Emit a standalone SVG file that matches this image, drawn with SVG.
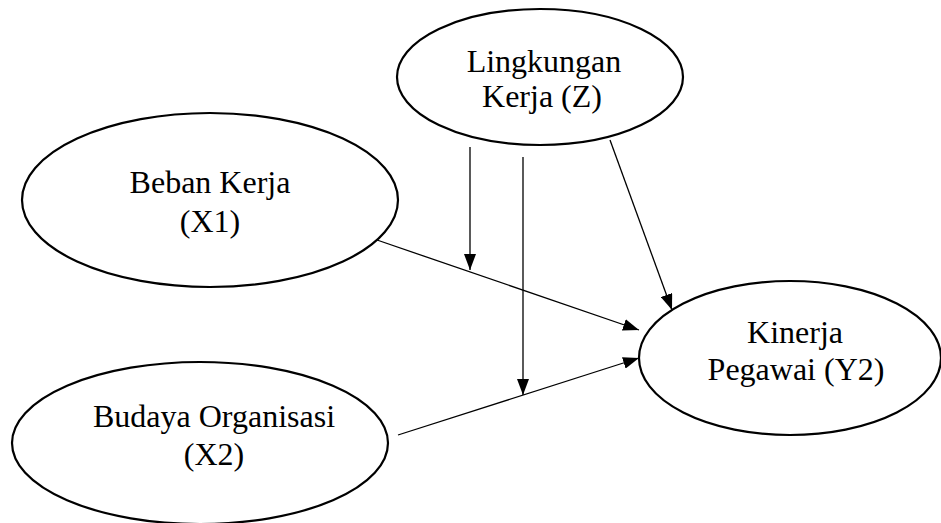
<svg xmlns="http://www.w3.org/2000/svg" width="941" height="523" viewBox="0 0 941 523">
<style>
.node ellipse{fill:#fff;stroke:#000;stroke-width:2.2}
.node text{font-size:32px;fill:#000;text-anchor:middle}
.edges line{stroke:#000;stroke-width:1.3;fill:none}
</style>
<defs>
<marker id="ah" viewBox="0 0 16 12" refX="16" refY="6" markerWidth="16" markerHeight="12" markerUnits="userSpaceOnUse" orient="auto">
<path d="M0,0 L16,6 L0,12 Z" fill="#000"/>
</marker>
</defs>
<rect width="941" height="523" fill="#fff"/>
<g font-family="'Liberation Serif', 'Times New Roman', 'DejaVu Serif', serif">
<g id="node-z" class="node">
<ellipse cx="540" cy="77" rx="143" ry="68"/>
<text x="544" y="72">Lingkungan</text>
<text x="542" y="107">Kerja (Z)</text>
</g>
<g id="node-x1" class="node">
<ellipse cx="210" cy="200" rx="188" ry="87"/>
<text x="210" y="193">Beban Kerja</text>
<text x="210" y="232">(X1)</text>
</g>
<g id="node-x2" class="node">
<ellipse cx="200" cy="443" rx="188" ry="81"/>
<text x="214" y="427">Budaya Organisasi</text>
<text x="214" y="465">(X2)</text>
</g>
<g id="node-y2" class="node">
<ellipse cx="790" cy="358" rx="151" ry="77"/>
<text x="795" y="343">Kinerja</text>
<text x="796" y="380">Pegawai (Y2)</text>
</g>
</g>
<g id="connectors" class="edges">
<line x1="470" y1="147" x2="470" y2="270" marker-end="url(#ah)"/>
<line x1="523" y1="157" x2="523" y2="395" marker-end="url(#ah)"/>
<line x1="610" y1="140" x2="672" y2="310" marker-end="url(#ah)"/>
<line x1="377" y1="240" x2="639" y2="330" marker-end="url(#ah)"/>
<line x1="398" y1="435" x2="639" y2="358" marker-end="url(#ah)"/>
</g>
</svg>
